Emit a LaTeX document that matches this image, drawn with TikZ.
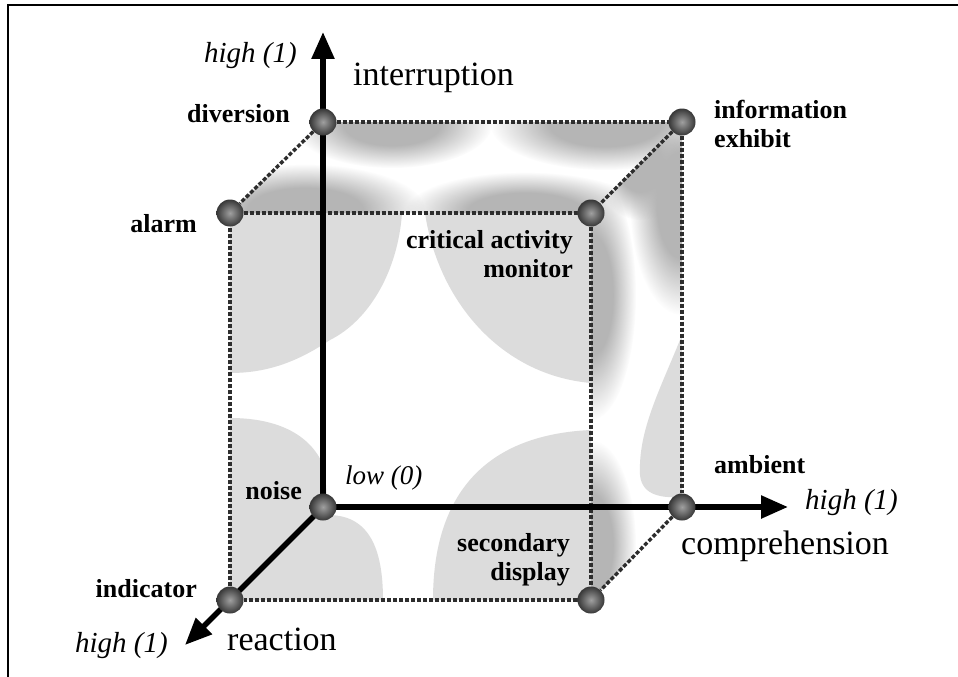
\documentclass[tikz,border=0pt]{standalone}
\usepackage{fontspec}
\setmainfont{Liberation Serif}
\usetikzlibrary{arrows.meta,fadings}
\pgfdeclarelayer{shadelayer}
\pgfdeclarelayer{edgelayer}
\pgfsetlayers{shadelayer,edgelayer,main}
\definecolor{blob}{RGB}{220,220,220}
\definecolor{edgecol}{RGB}{45,45,45}
\definecolor{ballin}{RGB}{160,160,160}
\definecolor{ballout}{RGB}{55,55,55}
\pgfdeclareradialshading{plateaushade}{\pgfpointorigin}{color(0bp)=(white); color(12bp)=(white); color(25bp)=(black); color(50bp)=(black)}
\pgfdeclarefading{plateaufade}{\pgfuseshading{plateaushade}}
\begin{document}
\begin{tikzpicture}[x=1pt,y=-1pt,
  ball/.style={circle, minimum size=27pt, inner sep=0pt, inner color=ballin, outer color=ballout},
  cubeedge/.style={draw=edgecol, line width=3.4pt, dash pattern=on 4pt off 2pt},
  axisline/.style={line width=5.5pt, -{Triangle[length=27pt,width=22pt]}},
  blabel/.style={font=\fontsize{26}{28.5}\selectfont\bfseries, inner sep=0pt},
  rlabel/.style={font=\fontsize{34}{36}\selectfont, inner sep=0pt},
  ilabel/.style={font=\fontsize{29}{30}\selectfont\itshape, inner sep=0pt},
  soft/.style={fill=gray!58, path fading=plateaufade},
]
\useasboundingbox (0,0) rectangle (958,677);

% balls
\node[ball] (diversion) at (323,122) {};
\node[ball] (info) at (682,122) {};
\node[ball] (alarm) at (230,213) {};
\node[ball] (critical) at (591,213) {};
\node[ball] (noise) at (323,507) {};
\node[ball] (ambient) at (682,507) {};
\node[ball] (indicator) at (230,600) {};
\node[ball] (secondary) at (591,600) {};
\coordinate (ytip) at (323,32);
\coordinate (xtip) at (788,507);
\coordinate (ztip) at (185,645);

% shading
\begin{pgfonlayer}{shadelayer}
\fill[white] (0,0) rectangle (958,677);
\draw[line width=2pt] (8,677) -- (8,5) -- (958,5);
\begin{scope}
\clip (230,213) rectangle (591,600);
\fill[blob] (230,213) -- (402,213) .. controls (398,270) and (370,320) .. (330,340) .. controls (300,360) and (270,373) .. (230,373) -- cycle;
\fill[blob] (425,213) .. controls (438,300) and (500,375) .. (591,383) -- (591,213) -- cycle;
\fill[blob] (230,418) .. controls (285,418) and (315,440) .. (325,470) -- (328,515) .. controls (370,515) and (383,550) .. (383,600) -- (230,600) -- cycle;
\fill[blob] (433,600) .. controls (433,500) and (480,435) .. (591,430) -- (591,600) -- cycle;
\end{scope}
\begin{scope}
\clip (230,213) -- (323,122) -- (682,122) -- (591,213) -- cycle;
\fill[soft] (392,124) ellipse (100 and 44);
\fill[soft] (605,124) ellipse (115 and 46);
\fill[soft] (305,210) ellipse (120 and 46);
\fill[soft] (525,212) ellipse (120 and 40);
\end{scope}
\begin{scope}
\clip (591,213) -- (682,122) -- (682,507) -- (591,600) -- cycle;
\fill[soft] (591,295) ellipse (45 and 125);
\fill[soft] (682,205) ellipse (52 and 110);
\fill[soft] (640,165) ellipse (45 and 55);
\fill[soft] (591,545) ellipse (45 and 105);
\fill[blob] (682,335) .. controls (660,390) and (638,430) .. (640,475) .. controls (642,497) and (665,498) .. (682,497) -- cycle;
\end{scope}
\end{pgfonlayer}

% edges and axes
\begin{pgfonlayer}{edgelayer}
\draw[cubeedge] (diversion) -- (info);
\draw[cubeedge] (info) -- (ambient);
\draw[cubeedge] (alarm) -- (critical);
\draw[cubeedge] (critical) -- (secondary);
\draw[cubeedge] (secondary) -- (indicator);
\draw[cubeedge] (indicator) -- (alarm);
\draw[cubeedge] (diversion) -- (alarm);
\draw[cubeedge] (info) -- (critical);
\draw[cubeedge] (ambient) -- (secondary);
\draw[axisline] (noise.center) -- (ytip);
\draw[axisline] (noise.center) -- (xtip);
\draw[axisline] (noise.center) -- (ztip);
\end{pgfonlayer}

% labels
\node[ilabel, anchor=base east] (hightop) at (297,63) {high (1)};
\node[rlabel, anchor=base west] (interruption) at (353,85) {interruption};
\node[blabel, anchor=base east] (tdiversion) at (290,122) {diversion};
\node[blabel, anchor=base east] (talarm) at (197,232) {alarm};
\node[blabel, anchor=base east, align=right] (tcritical) at (573,277) {critical activity\\monitor};
\node[blabel, anchor=base west, align=left] (tinfo) at (714,147) {information\\exhibit};
\node[blabel, anchor=base east] (tnoise) at (302,499) {noise};
\node[ilabel, font=\fontsize{27}{28}\selectfont\itshape, anchor=base west] (low) at (345,484) {low (0)};
\node[blabel, anchor=base east] (tindicator) at (197,597) {indicator};
\node[ilabel, anchor=base east] (highz) at (168,652) {high (1)};
\node[rlabel, anchor=base west] (reaction) at (227,650) {reaction};
\node[blabel, anchor=base west] (tambient) at (714,473) {ambient};
\node[ilabel, anchor=base west] (highx) at (805,509) {high (1)};
\node[rlabel, anchor=base west] (comprehension) at (681,554) {comprehension};
\node[blabel, anchor=base east, align=right] (tsecondary) at (570,580) {secondary\\display};
\end{tikzpicture}
\end{document}
